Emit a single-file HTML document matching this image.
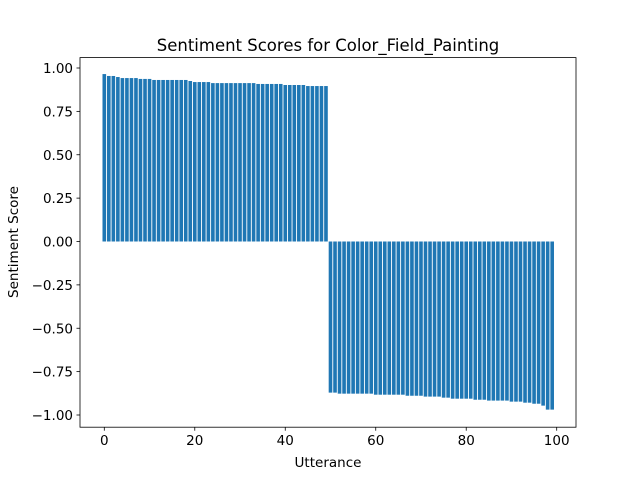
<!DOCTYPE html>
<html><head><meta charset="utf-8"><style>body{margin:0;background:#fff}svg{display:block;font-family:"DejaVu Sans","Liberation Sans",sans-serif}</style></head>
<body>
<svg id="c" width="640" height="480"></svg>
<script>
const posValues=[0.965,0.954,0.954,0.948,0.942,0.942,0.942,0.942,0.937,0.937,0.937,0.931,0.931,0.931,0.931,0.931,0.931,0.931,0.931,0.925,0.919,0.919,0.919,0.919,0.913,0.913,0.913,0.913,0.913,0.913,0.913,0.913,0.913,0.913,0.908,0.908,0.908,0.908,0.908,0.908,0.902,0.902,0.902,0.902,0.902,0.896,0.896,0.896,0.896,0.896];
const negValues=[-0.871,-0.871,-0.877,-0.877,-0.877,-0.877,-0.877,-0.877,-0.877,-0.877,-0.883,-0.883,-0.883,-0.883,-0.883,-0.883,-0.883,-0.889,-0.889,-0.889,-0.889,-0.894,-0.894,-0.894,-0.894,-0.900,-0.900,-0.906,-0.906,-0.906,-0.906,-0.906,-0.912,-0.912,-0.912,-0.917,-0.917,-0.917,-0.917,-0.917,-0.923,-0.923,-0.923,-0.929,-0.929,-0.935,-0.935,-0.946,-0.969,-0.969];
const values=posValues.concat(negValues);
const xTicks=[0,20,40,60,80,100];
const yTicks=[-1.00,-0.75,-0.50,-0.25,0.00,0.25,0.50,0.75,1.00];
const NS="http://www.w3.org/2000/svg",svg=document.getElementById('c');
const L=80,R=576,T=57.6,B=427.2;
const xs=v=>104.3+v*4.524, ys=v=>241.5-v*173.5;
function mk(t,a,p){const e=document.createElementNS(NS,t);for(const k in a)e.setAttribute(k,a[k]);(p||svg).appendChild(e);return e;}
values.forEach((v,i)=>{
 const y0=ys(Math.max(v,0)),y1=ys(Math.min(v,0));
 const r=mk('rect',{x:xs(i-0.4),y:y0,width:0.8*4.524,height:y1-y0,fill:'#1f77b4'});
 
 
});
const f=mk('rect',{x:L,y:T,width:R-L,height:B-T,fill:'none',stroke:'#000','stroke-width':0.8});

xTicks.forEach(t=>{const x=xs(t);mk('line',{x1:x,x2:x,y1:B,y2:B+3.5,stroke:'#000','stroke-width':0.8});
 const tx=mk('text',{x:x,y:B+18,'text-anchor':'middle','font-size':13.5});tx.textContent=t;
 });
yTicks.forEach(t=>{const y=ys(t);mk('line',{x1:L-3.5,x2:L,y1:y,y2:y,stroke:'#000','stroke-width':0.8});
 const tx=mk('text',{x:L-7,y:y+5,'text-anchor':'end','font-size':13.5});tx.textContent=t.toFixed(2).replace('-','\u2212');
 });
let t=mk('text',{x:328,y:51,'text-anchor':'middle','font-size':16.5});t.textContent='Sentiment Scores for Color_Field_Painting';

t=mk('text',{x:328,y:467,'text-anchor':'middle','font-size':13.5});t.textContent='Utterance';

t=mk('text',{x:18,y:242,'text-anchor':'middle','font-size':13.5,transform:'rotate(-90 18 242)'});t.textContent='Sentiment Score';

</script>
</body></html>
